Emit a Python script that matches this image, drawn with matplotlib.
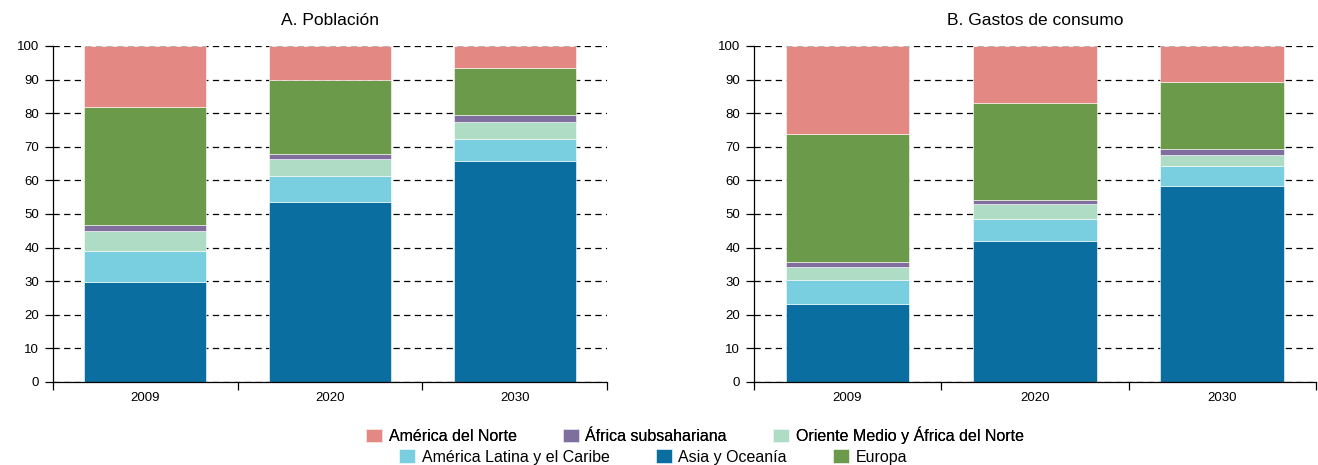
import matplotlib.pyplot as plt
import numpy as np

plt.rcParams['font.family'] = ['Liberation Sans', 'DejaVu Sans']

years = ['2009', '2020', '2030']
regions = ['Asia y Oceanía', 'América Latina y el Caribe', 'Oriente Medio y África del Norte',
           'África subsahariana', 'Europa', 'América del Norte']
colors = ['#0B6EA0', '#79CFDF', '#AEDCC5', '#7F6E9E', '#6C9A4B', '#E48884']

# shares in percent, bottom to top (Asia, LatAm, MENA, SSA, Europe, N. America)
poblacion = {
    'Asia y Oceanía': [29.7, 53.6, 65.8],
    'América Latina y el Caribe': [9.4, 7.8, 6.6],
    'Oriente Medio y África del Norte': [5.9, 4.9, 5.0],
    'África subsahariana': [1.6, 1.7, 2.0],
    'Europa': [35.3, 21.8, 14.1],
    'América del Norte': [18.1, 10.2, 6.5],
}
gastos = {
    'Asia y Oceanía': [23.1, 42.0, 58.4],
    'América Latina y el Caribe': [7.4, 6.6, 5.9],
    'Oriente Medio y África del Norte': [3.8, 4.3, 3.4],
    'África subsahariana': [1.3, 1.2, 1.5],
    'Europa': [38.1, 29.0, 20.2],
    'América del Norte': [26.3, 16.9, 10.6],
}


def draw_panel(ax, data, title):
    x = np.arange(len(years))
    bottom = np.zeros(len(years))
    handles = {}
    for reg, col in zip(regions, colors):
        vals = np.array(data[reg])
        b = ax.bar(x, vals, 0.66, bottom=bottom, color=col, edgecolor='white',
                   linewidth=0.4, zorder=2, label=reg)
        handles[reg] = b
        bottom += vals
    ax.set_xlim(-0.5, 2.5)
    ax.set_ylim(0, 100)
    ax.set_yticks(range(0, 101, 10))
    ax.yaxis.grid(True, linestyle=(0, (5, 3.5)), color='black', linewidth=0.9, zorder=0)
    ax.set_axisbelow(True)
    ax.set_xticks(x)
    ax.set_xticklabels(years)
    ax.set_xticks([-0.5, 0.5, 1.5, 2.5], minor=True)
    ax.tick_params(axis='x', which='major', length=0, labelsize=9.5, pad=7)
    ax.tick_params(axis='x', which='minor', length=6, direction='out', width=0.9)
    ax.tick_params(axis='y', length=6, width=0.9, labelsize=9.5, pad=4)
    for s in ['top', 'right']:
        ax.spines[s].set_visible(False)
    ax.spines['left'].set_linewidth(0.9)
    ax.spines['bottom'].set_linewidth(0.9)
    ax.set_title(title, fontsize=12.5, pad=15)
    return handles


fig = plt.figure(figsize=(13.18, 4.65), dpi=100)
ax1 = fig.add_axes([0.0402, 0.1785, 0.4203, 0.7226])
ax2 = fig.add_axes([0.572, 0.1785, 0.4264, 0.7226])

h = draw_panel(ax1, poblacion, 'A. Población')
draw_panel(ax2, gastos, 'B. Gastos de consumo')

row1 = ['América del Norte', 'África subsahariana', 'Oriente Medio y África del Norte']
row2 = ['América Latina y el Caribe', 'Asia y Oceanía', 'Europa']
leg_kw = dict(loc='center', ncol=3, frameon=False, fontsize=11.5, handlelength=1.0,
              handleheight=0.9, handletextpad=0.4, columnspacing=2.9, borderpad=0)
leg1 = fig.legend([h[r] for r in row1], row1, bbox_to_anchor=(695 / 1318, 1 - 435 / 465), **leg_kw)
leg2 = fig.legend([h[r] for r in row2], row2, bbox_to_anchor=(653 / 1318, 1 - 457 / 465), **leg_kw)
fig.add_artist(leg1)

fig.savefig('out.png', dpi=100)
